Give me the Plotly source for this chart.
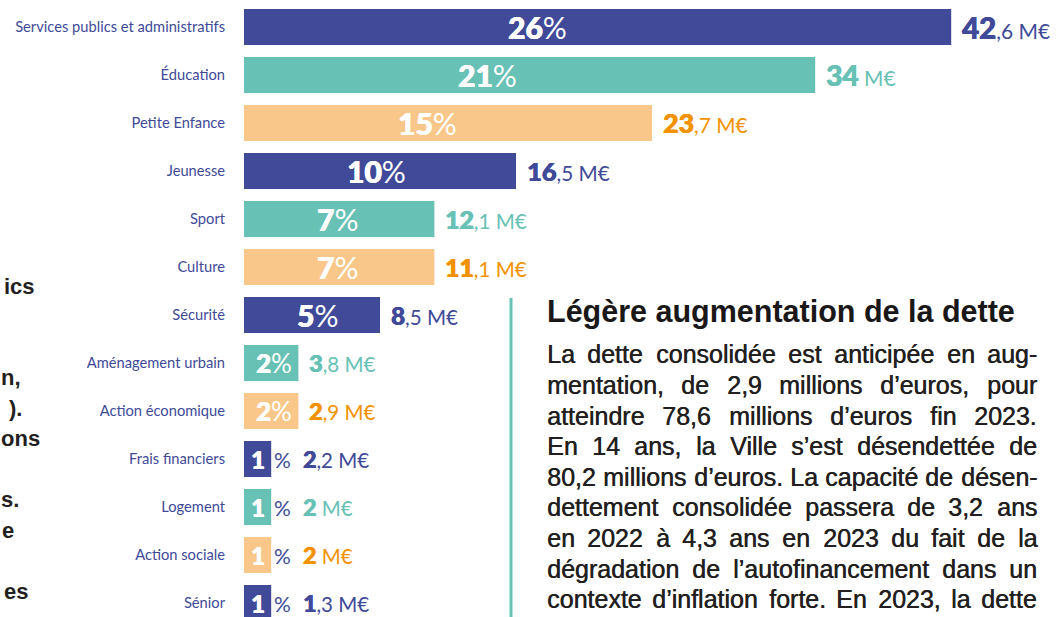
import plotly.graph_objects as go

# ---------------- data ----------------
categories = [
    "Services publics et administratifs", "Éducation", "Petite Enfance", "Jeunesse",
    "Sport", "Culture", "Sécurité", "Aménagement urbain", "Action économique",
    "Frais financiers", "Logement", "Action sociale", "Sénior",
]
percents = [26, 21, 15, 10, 7, 7, 5, 2, 2, 1, 1, 1, 1]
amounts = [42.6, 34, 23.7, 16.5, 12.1, 11.1, 8.5, 3.8, 2.9, 2.2, 2, 2, 1.3]
unit = "M€"

title_text = "Légère augmentation de la dette"
paragraph_lines = [
    "La dette consolidée est anticipée en aug-",
    "mentation, de 2,9 millions d’euros, pour",
    "atteindre 78,6 millions d’euros fin 2023.",
    "En 14 ans, la Ville s’est désendettée de",
    "80,2 millions d’euros. La capacité de désen-",
    "dettement consolidée passera de 3,2 ans",
    "en 2022 à 4,3 ans en 2023 du fait de la",
    "dégradation de l’autofinancement dans un",
    "contexte d’inflation forte. En 2023, la dette",
]
# cropped fragments of the neighbouring column (line index, text)
left_fragments = [(0, "ics"), (3, "n,"), (4, ")."), (5, "ons"), (7, "s."), (8, "e"), (10, "es")]

# ---------------- style ----------------
NAVY, TEAL, PEACH, ORANGE = "#404A99", "#67C1B5", "#F9C78A", "#F39200"
BAR_CYCLE = [NAVY, TEAL, PEACH]
TXT_CYCLE = [NAVY, TEAL, ORANGE]
DARK = "#231F20"
FONT = "Lato, 'Open Sans', sans-serif"
SANS = "'Liberation Sans', Arial, sans-serif"

W, H = 1057, 617
ML = 244
PX_PER_PCT = 27.2
ROW_PX, FIRST_ROW_PX = 48, 27

n = len(categories)
rows = list(range(n))
bar_colors = [BAR_CYCLE[i % 3] for i in rows]
txt_colors = [TXT_CYCLE[i % 3] for i in rows]


def px_x(px):
    return (px - ML) / (W - ML)


def px_y(py):
    return 1 - py / H


def heavy(t, color, size=None):
    sz = f"font-size:{size:.1f}px;" if size else ""
    return (f"<span style='font-weight:900;{sz}"
            f"text-shadow:0.5px 0 0 {color}, -0.3px 0 0 {color}'>{t}</span>")


fig = go.Figure(go.Bar(
    x=percents, y=rows, orientation="h", width=0.75,
    marker=dict(color=bar_colors, line=dict(width=0)),
    hoverinfo="skip",
))

ann = []


def add(**kw):
    kw.setdefault("showarrow", False)
    kw.setdefault("borderpad", 0)
    kw.setdefault("borderwidth", 0)
    ann.append(kw)


for i, (p, a) in enumerate(zip(percents, amounts)):
    # percentage labels
    if p >= 5:
        add(x=0.37 * p + 0.1, y=i, xref="x", yref="y", xanchor="left", yanchor="middle",
            text=heavy(p, "#ffffff") + "%",
            font=dict(family=FONT, size=30, color="white"))
    elif p >= 2:
        add(x=p / 2 + 0.12, y=i, xref="x", yref="y", xanchor="center", yanchor="middle",
            text=heavy(p, "#ffffff") + "%",
            font=dict(family=FONT, size=26, color="white"))
    else:
        add(x=p / 2, y=i, xref="x", yref="y", xanchor="center", yanchor="middle",
            text=heavy(p, "#ffffff"),
            font=dict(family=FONT, size=24, color="white"))
        add(x=p + 0.1, y=i, xref="x", yref="y", xanchor="left", yanchor="middle",
            text="%", font=dict(family=FONT, size=21, color=NAVY))
    # amount labels
    s = f"{a:g}"
    ip, _, fp = s.partition(".")
    frac = ("," + fp) if fp else ""
    bs = 23 + 0.25 * p
    rs = 20.5 + 0.02 * p
    vx = p + 0.4 if p >= 2 else p + 1.17
    add(x=vx, y=i, xref="x", yref="y", xanchor="left", yanchor="middle",
        text=heavy(ip, txt_colors[i], bs) + f"<span style='font-size:{rs:.1f}px'>{frac} {unit}</span>",
        font=dict(family=FONT, size=rs, color=txt_colors[i]))

# ---------------- right text block ----------------
ARIAL = {" ": 278, "a": 556, "b": 556, "c": 500, "d": 556, "e": 556, "f": 278, "g": 556,
         "h": 556, "i": 222, "j": 222, "k": 500, "l": 222, "m": 833, "n": 556, "o": 556,
         "p": 556, "q": 556, "r": 333, "s": 500, "t": 278, "u": 556, "v": 500, "w": 722,
         "x": 500, "y": 500, "z": 500, ",": 278, ".": 278, "-": 333, "’": 222,
         "L": 556, "E": 667, "V": 667, "é": 556, "è": 556, "à": 556}
ARIAL_BOLD = {"i": 278, "c": 556, "s": 556, "n": 611, ",": 278, ")": 333, ".": 278,
              "o": 611, "e": 556}


def tw(s, size, table=ARIAL):
    return sum(table.get(c, 556) for c in s) / 1000 * size


PSIZE = 25
X0, X1 = 547, 1037
BASE0, LH = 363, 30.6
for k, line in enumerate(paragraph_lines):
    words = line.split(" ")
    widths = [tw(w, PSIZE) for w in words]
    gap = (X1 - X0 - sum(widths)) / (len(words) - 1)
    x = X0
    cy = BASE0 + k * LH - 0.3465 * PSIZE
    for w, wd in zip(words, widths):
        add(x=px_x(x), y=px_y(cy), xref="paper", yref="paper", xanchor="left", yanchor="middle",
            text=w, font=dict(family=SANS, size=PSIZE, color=DARK, shadow=f"0.5px 0 0 {DARK}"))
        x += wd + gap

add(x=px_x(547), y=px_y(322 - 0.3465 * 30.5), xref="paper", yref="paper",
    xanchor="left", yanchor="middle", text=f"<b>{title_text}</b>",
    font=dict(family=SANS, size=30.5, color="#1A1718"))

# cropped left column (kept fully inside the picture)
FSIZE = 22
frag_right = {0: 35, 3: 20, 4: 22, 5: 36, 7: 19, 8: 14, 10: 28}
for k, t in left_fragments:
    left = max(1.0, frag_right[k] - tw(t, FSIZE, ARIAL_BOLD))
    add(x=px_x(left), y=px_y(294 + 30.5 * k - 0.3465 * FSIZE), xref="paper", yref="paper",
        xanchor="left", yanchor="middle", text=f"<b>{t}</b>",
        font=dict(family=SANS, size=FSIZE, color=DARK))

fig.update_layout(
    width=W, height=H,
    margin=dict(l=ML, r=0, t=0, b=0),
    paper_bgcolor="white", plot_bgcolor="white",
    showlegend=False,
    xaxis=dict(range=[0, (W - ML) / PX_PER_PCT], visible=False, fixedrange=True),
    yaxis=dict(range=[(H - FIRST_ROW_PX) / ROW_PX, -FIRST_ROW_PX / ROW_PX],
               tickvals=rows, ticktext=categories, showgrid=False, zeroline=False,
               showline=False, ticks="", ticklabelstandoff=18,
               tickfont=dict(family=FONT, size=14.7, color=NAVY), fixedrange=True),
    annotations=ann,
    shapes=[dict(type="line", xref="paper", yref="paper",
                 x0=px_x(511), x1=px_x(511), y0=px_y(298), y1=px_y(H + 5),
                 line=dict(color=TEAL, width=3))],
)

fig.write_html("out.html", config={"displayModeBar": False},
               post_script="document.body.style.margin='0';")
